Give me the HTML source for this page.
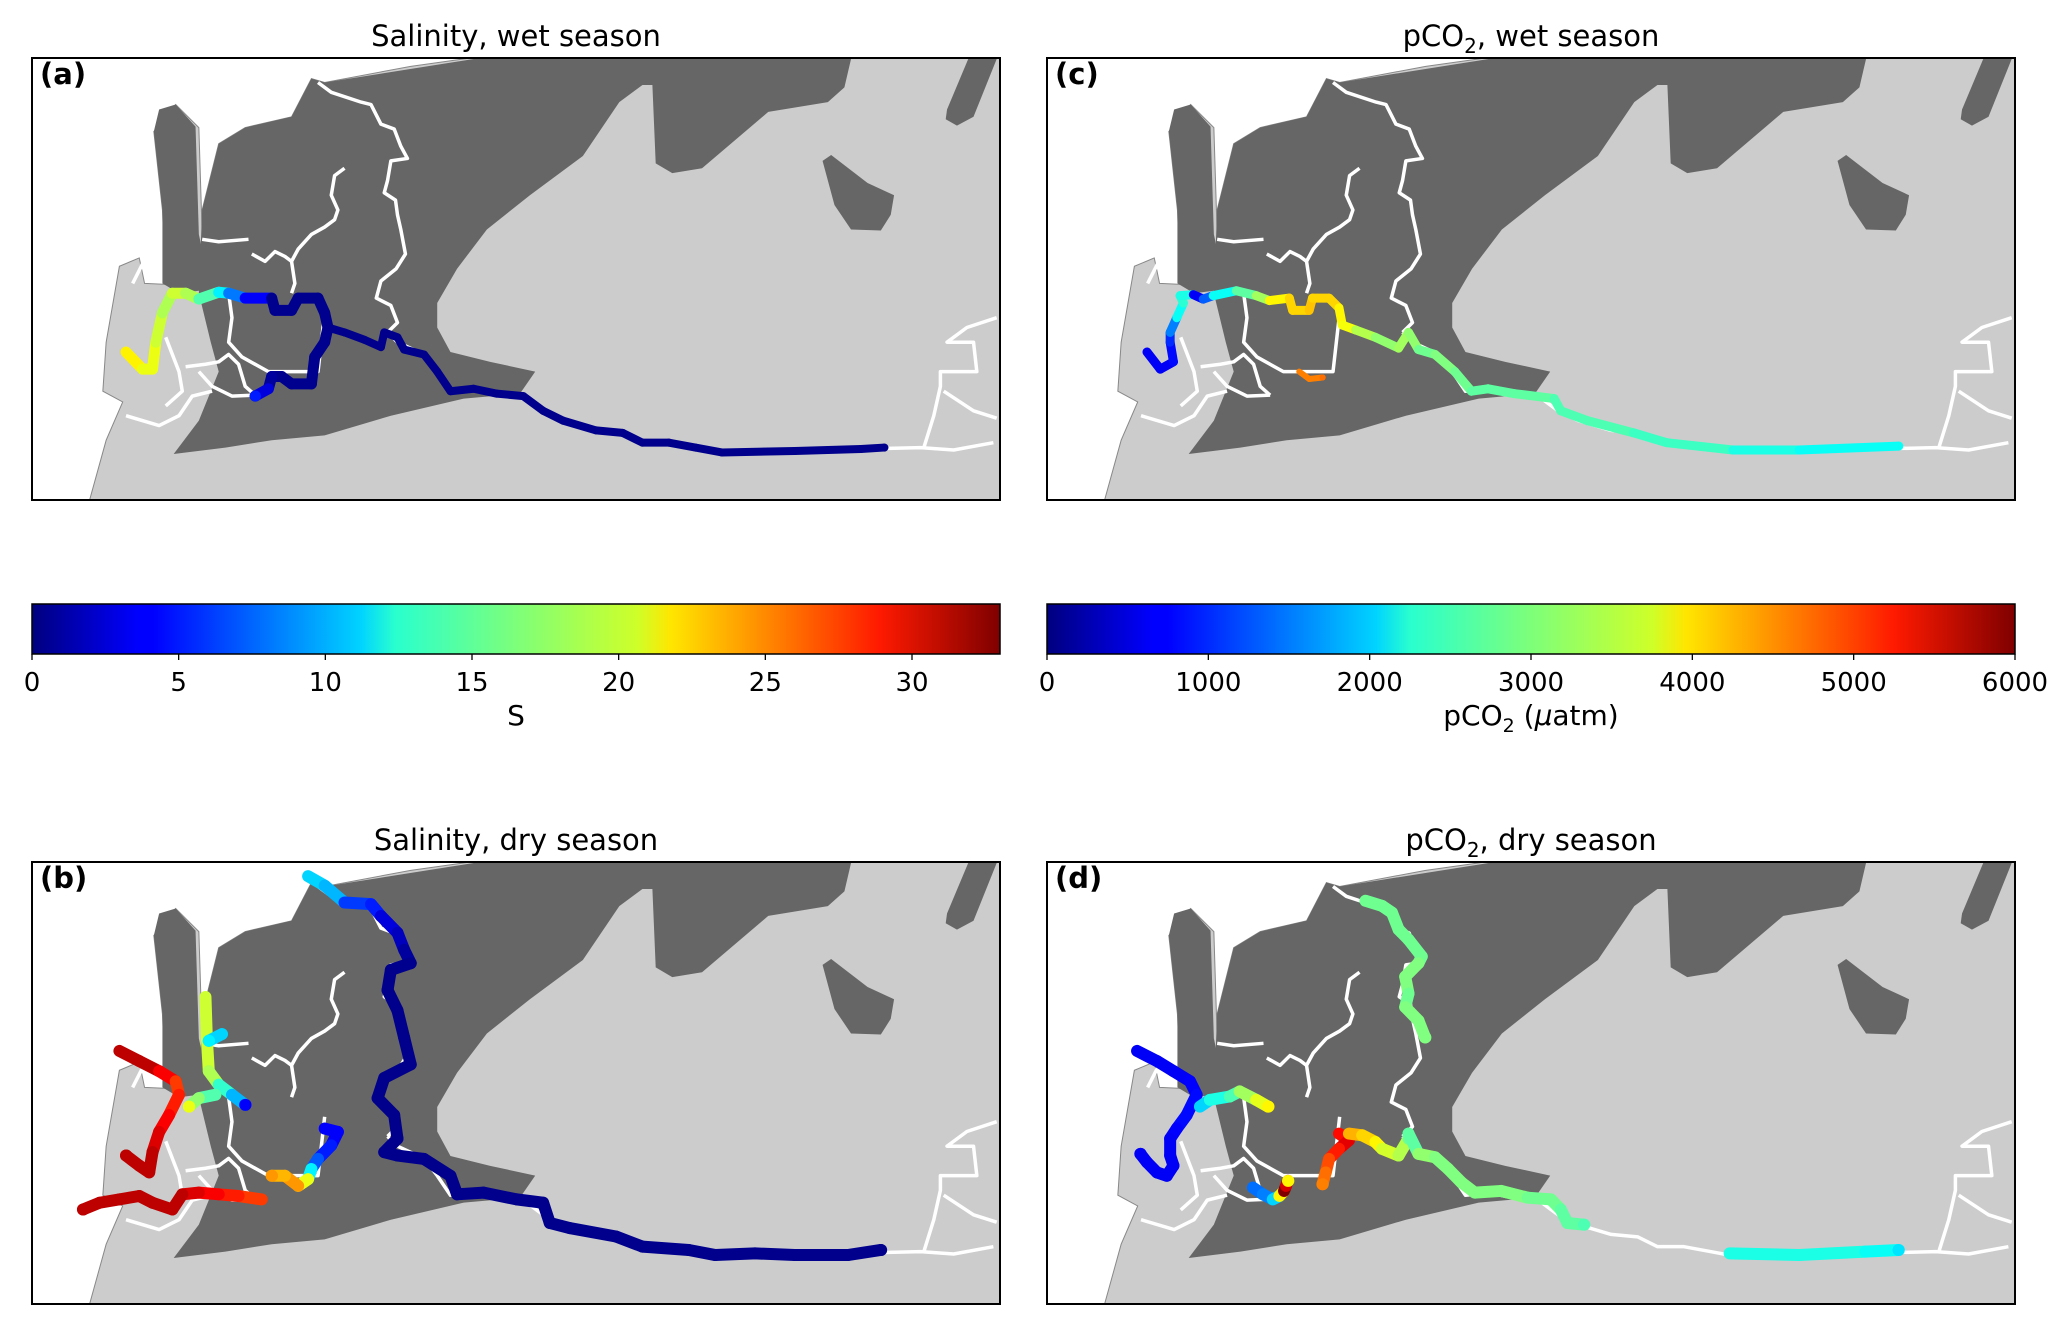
<!DOCTYPE html>
<html><head><meta charset="utf-8"><style>
body{margin:0;background:#fff}
svg text{font-family:"DejaVu Sans","Liberation Sans",sans-serif;fill:#000}
</style></head><body>
<svg id="fig" width="2065" height="1324" viewBox="0 0 2065 1324" xmlns="http://www.w3.org/2000/svg">
<defs>
<linearGradient id="jet" x1="0" x2="1" y1="0" y2="0">
<stop offset="0" stop-color="#00007f"/><stop offset="0.11" stop-color="#0000ff"/><stop offset="0.125" stop-color="#0000ff"/>
<stop offset="0.34" stop-color="#00d4ff"/><stop offset="0.375" stop-color="#29ffce"/><stop offset="0.5" stop-color="#7dff7a"/>
<stop offset="0.625" stop-color="#ceff29"/><stop offset="0.66" stop-color="#ffe600"/><stop offset="0.875" stop-color="#ff1a00"/><stop offset="1" stop-color="#7f0000"/>
</linearGradient>
<g id="basemap">
<rect x="48" y="120" width="1462" height="902" fill="#fff"/>
<path fill="#cccccc" stroke="#888" stroke-width="1" vector-effect="non-scaling-stroke" d="M710,120 L1510,120 L1510,1022 L135,1022 L160,900 L185,822 L155,800 L160,700 L180,545 L210,528 L218,580 L250,582 L245,430 L232,270 L265,215 L300,262 L305,480 L318,585 L305,430 L330,295 L370,262 L440,240 L470,162 L490,170 L620,137 Z"/>
<path fill="#666666" d="M490,170 L715,122 L1285,122 L1275,180 L1250,210 L1160,230 L1060,345 L1015,355 L990,335 L985,175 L970,175 L935,210 L880,320 L800,400 L735,470 L690,550 L660,620 L660,670 L680,720 L740,740 L808,760 L785,805 L700,815 L590,850 L490,890 L410,900 L340,915 L262,928 L300,860 L330,760 L318,700 L300,600 L305,430 L330,295 L370,262 L440,240 L470,162 Z"/>
<path fill="#666666" d="M232,270 L240,225 L265,215 L295,260 L300,480 L318,592 L270,600 L245,580 L245,430 Z"/>
<path fill="#666666" d="M1430,225 L1462,122 L1505,122 L1470,240 L1445,258 L1428,245 Z"/>
<path fill="#666666" d="M1255,318 L1310,375 L1350,400 L1345,440 L1330,472 L1285,470 L1260,420 L1242,330 Z"/>
<g fill="none" stroke="#fff" stroke-width="3.5" vector-effect="non-scaling-stroke" stroke-linejoin="round">
<path vector-effect="non-scaling-stroke" d="M480,170 L500,190 L545,210 L560,215 L575,255 L595,265 L605,300 L615,325 L590,330 L585,370 L580,395 L597,410 L600,440 L605,470 L612,520 L598,550 L575,575 L568,610 L590,625 L600,660 L585,680"/>
<path vector-effect="non-scaling-stroke" d="M520,345 L505,360 L500,400 L510,430 L505,450 L490,465 L470,480 L450,510 L440,535 L445,580 L440,600"/>
<path vector-effect="non-scaling-stroke" d="M380,520 L400,535 L415,515 L430,525 L440,535"/>
<path vector-effect="non-scaling-stroke" d="M305,490 L330,495 L375,490"/>
<path vector-effect="non-scaling-stroke" d="M345,600 L350,650 L345,700 L365,730 L405,760 L480,760 L490,640"/>
<path vector-effect="non-scaling-stroke" d="M280,750 L310,745 L330,740 L345,725 L360,745 L370,790 L385,808"/>
<path vector-effect="non-scaling-stroke" d="M300,760 L320,790 L350,810 L385,808"/>
<path vector-effect="non-scaling-stroke" d="M190,850 L240,870 L270,850 L290,810 L320,800"/>
<path vector-effect="non-scaling-stroke" d="M215,540 L200,580"/>
<path vector-effect="non-scaling-stroke" d="M250,690 L270,760 L275,800 L250,830"/>
<path vector-effect="non-scaling-stroke" d="M585,680 L600,700 L640,725 L660,760 L680,800 L715,795 L750,805 L790,810 L820,840 L850,860 L900,880 L940,885 L970,905 L1010,905 L1050,915 L1090,925 L1200,922 L1300,918 L1390,915 L1440,920 L1500,905"/>
<path vector-effect="non-scaling-stroke" d="M1505,650 L1460,670 L1430,700 L1470,700 L1475,760 L1420,760 L1420,790 L1410,850 L1395,915"/>
<path vector-effect="non-scaling-stroke" d="M1425,800 L1470,840 L1505,855"/>
</g>
</g>
</defs>

<text x="516" y="46" font-size="29" text-anchor="middle">Salinity, wet season</text>
<text x="1531" y="46" font-size="29" text-anchor="middle">pCO<tspan font-size="20" dy="7">2</tspan><tspan dy="-7">, wet season</tspan></text>
<text x="516" y="850" font-size="29" text-anchor="middle">Salinity, dry season</text>
<text x="1531" y="850" font-size="29" text-anchor="middle">pCO<tspan font-size="20" dy="7">2</tspan><tspan dy="-7">, dry season</tspan></text>

<svg id="pa" x="32" y="58" width="968" height="442" viewBox="48 120 1462 902" preserveAspectRatio="none"><use href="#basemap"/><g id="ta"></g></svg>
<svg id="pc" x="1047" y="58" width="968" height="442" viewBox="48 120 1462 902" preserveAspectRatio="none"><use href="#basemap"/><g id="tc" transform="translate(34,0)"></g></svg>
<svg id="pb" x="32" y="862" width="968" height="442" viewBox="48 120 1462 902" preserveAspectRatio="none"><use href="#basemap"/><g id="tb" transform="translate(0,-3.93) scale(1,0.6885)"></g></svg>
<svg id="pd" x="1047" y="862" width="968" height="442" viewBox="48 120 1462 902" preserveAspectRatio="none"><use href="#basemap"/><g id="td" transform="translate(34,-3.93) scale(1,0.6885)"></g></svg>

<rect x="32" y="58" width="968" height="442" fill="none" stroke="#000" stroke-width="2"/>
<rect x="1047" y="58" width="968" height="442" fill="none" stroke="#000" stroke-width="2"/>
<rect x="32" y="862" width="968" height="442" fill="none" stroke="#000" stroke-width="2"/>
<rect x="1047" y="862" width="968" height="442" fill="none" stroke="#000" stroke-width="2"/>
<text x="40" y="84" font-size="29" font-weight="bold">(a)</text>
<text x="1055" y="84" font-size="29" font-weight="bold">(c)</text>
<text x="40" y="888" font-size="29" font-weight="bold">(b)</text>
<text x="1055" y="888" font-size="29" font-weight="bold">(d)</text>

<g id="cbars"></g>
</svg>
<script>
// colorbar data
const salTicks = [0,5,10,15,20,25,30];
const salMax = 33;
const pco2Ticks = [0,1000,2000,3000,4000,5000,6000];
const pco2Max = 6000;

// track data: x, y (map coords), value
const aX=[190,215,230,235,245,260,280,300,330,345,370,410,415,440,450,480,490,495,490,475,470,440,425,410,405,385];
const aY=[720,755,755,700,640,600,600,612,598,600,610,610,635,635,610,610,640,670,700,730,785,785,770,770,795,810];
const aV=[21,20,20,19,18,19,18,15,12,8,4,0.5,0.5,0.5,0.5,0.5,0.5,0.5,0.5,0.5,0.5,0.5,0.5,1,3,5];
const a2X=[495,520,550,575,580,600,610,640,660,680,715,750,790,820,850,900,940,970,1010,1050,1090,1200,1300,1335];
const a2Y=[670,680,695,710,680,690,715,725,760,800,795,805,810,840,860,880,885,905,905,915,925,922,918,915];
const a2V=[0.4,0.4,0.4,0.4,0.4,0.4,0.4,0.4,0.4,0.4,0.4,0.4,0.4,0.4,0.4,0.4,0.4,0.4,0.4,0.4,0.4,0.4,0.4,0.4];

const b1X=[465,490,520,560,575,600,610,620,590,585,600,610,620,580,570,595,600,580,600,640,680,690,730,780,820,830,860,930,970,1040,1080,1140,1200,1280,1330];
const b1Y=[222,250,300,305,340,390,440,480,500,560,620,700,780,820,880,930,1000,1040,1050,1060,1110,1165,1160,1180,1190,1250,1265,1290,1320,1330,1345,1340,1345,1345,1330];
const b1V=[11,10,6,5,3,2,1,0.5,0.4,0.4,0.4,0.4,0.4,0.4,0.4,0.4,0.4,0.4,0.4,0.4,0.4,0.4,0.4,0.4,0.4,0.4,0.4,0.4,0.4,0.4,0.4,0.4,0.4,0.4,0.4];
const b2X=[490,510,500,480,470,465,450,430,410];
const b2Y=[970,980,1020,1060,1090,1120,1140,1110,1110];
const b2V=[4,4,5,7,12,20,24,23,24];
const b3X=[395,360,330,300,275,260,230,210,180,150,125];
const b3Y=[1180,1170,1165,1160,1165,1210,1190,1170,1180,1190,1210];
const b3V=[27,28,29,30,31,31,31,31,31,31,31];
const b4X=[180,210,240,265,270,255,240,230,225,210,190];
const b4Y=[740,770,800,830,870,930,980,1040,1100,1080,1050];
const b4V=[31,31,29,27,28,29,30,31,31,31,31];
const b5X=[310,312,315,330,350,370];
const b5Y=[580,700,800,840,870,900];
const b5V=[19,19,18,14,10,4];
const b6X=[335,315];
const b6Y=[690,710];
const b6V=[11,12];
const b7X=[325,300,285];
const b7Y=[870,880,905];
const b7V=[15,17,20];

const c1X=[165,185,205,200,200,210,220,215,235,250,265,300,330,350,380,385,410,415,440,455,460,480,510,545,560,575,600,630,655,680,720,780,790,830,900,950,1050,1150,1300];
const c1Y=[720,755,740,700,680,650,620,605,603,612,605,595,605,615,610,635,635,610,610,630,665,675,690,712,680,715,725,760,800,795,805,815,840,860,885,905,920,920,912];
const c1V=[700,700,800,1000,1500,2300,2500,2400,700,1300,2300,2800,3200,3800,4000,4000,4100,4000,4000,3800,3700,3300,3100,3200,3100,2900,3000,2900,2800,2800,2800,2700,2700,2700,2600,2600,2400,2300,2300];
const c2X=[395,410,430];
const c2Y=[760,775,772];
const c2V=[4500,4500,4600];

const d1X=[495,520,535,545,560,580,575,555,560,555,575,585];
const d1Y=[295,310,330,380,410,460,480,520,570,610,650,700];
const d1V=[2900,2900,2900,2900,2900,2900,3000,3000,2900,3000,3000,3000];
const d2X=[455,470,455,440,435,430];
const d2Y=[985,1005,1030,1060,1100,1135];
const d2V=[5200,5400,5100,4800,4600,4500];
const d3X=[470,490,510,520,545,560,560,575,600,620,640,660,700,740,775,790,800,825];
const d3Y=[985,990,1010,1030,1050,1000,985,1045,1055,1090,1130,1160,1155,1175,1180,1210,1250,1255];
const d3V=[4200,4000,3800,3500,3300,2900,2800,3100,3000,3000,3000,3000,3000,2900,2900,2800,2800,2700];
const d4X=[1045,1150,1250,1300];
const d4Y=[1340,1345,1335,1330];
const d4V=[2400,2400,2300,2100];
const d5X=[150,180,205,230,240,225,210,200,200,205,195,180,165,155];
const d5Y=[740,770,800,830,870,930,970,1000,1050,1080,1110,1100,1070,1045];
const d5V=[700,700,700,750,800,800,750,700,700,700,700,700,700,700];
const d6X=[245,260,290,305,330,348];
const d6Y=[905,885,875,860,885,905];
const d6V=[2000,2400,2700,3200,3600,3800];
const d7X=[325,340,355,365,372,375,378];
const d7Y=[1145,1165,1180,1170,1155,1140,1125];
const d7V=[1400,1500,2000,3800,6000,5500,3800];

const NS='http://www.w3.org/2000/svg';
function clamp(v){return Math.max(0,Math.min(1,v));}
function jet(t){
  t=clamp(t);
  const r=clamp(1.5-Math.abs(4*t-3)), g=clamp(1.5-Math.abs(4*t-2)), b=clamp(1.5-Math.abs(4*t-1));
  return 'rgb('+Math.round(r*255)+','+Math.round(g*255)+','+Math.round(b*255)+')';
}
function drawTrack(gid, xs, ys, vs, vmax, w, name){
  const g=document.getElementById(gid);
  for(let i=0;i<xs.length;i++){
    const j=Math.min(i+1,xs.length-1);
    const l=document.createElementNS(NS,'line');
    
    
    l.setAttribute('x1',xs[i]);l.setAttribute('y1',ys[i]);
    l.setAttribute('x2',xs[j]+(i===j?0.5:0));l.setAttribute('y2',ys[j]);
    l.setAttribute('stroke',jet(vs[i]/vmax));
    l.setAttribute('stroke-width',w);
    l.setAttribute('stroke-linecap','round');
    l.setAttribute('vector-effect','non-scaling-stroke');
    g.appendChild(l);
  }
}
drawTrack('ta',aX,aY,aV,salMax,11,'salinity-wet-track-west');
drawTrack('ta',a2X,a2Y,a2V,salMax,8,'salinity-wet-track-east');
[[b1X,b1Y,b1V],[b2X,b2Y,b2V],[b3X,b3Y,b3V],[b4X,b4Y,b4V],[b5X,b5Y,b5V],[b6X,b6Y,b6V],[b7X,b7Y,b7V]].forEach(function(t){drawTrack('tb',t[0],t[1],t[2],salMax,12,'salinity-dry-track');});
drawTrack('tc',c1X,c1Y,c1V,pco2Max,9,'pco2-wet-track');
drawTrack('tc',c2X,c2Y,c2V,pco2Max,6,'pco2-wet-track-branch');
[[d1X,d1Y,d1V],[d2X,d2Y,d2V],[d3X,d3Y,d3V],[d4X,d4Y,d4V],[d5X,d5Y,d5V],[d6X,d6Y,d6V],[d7X,d7Y,d7V]].forEach(function(t){drawTrack('td',t[0],t[1],t[2],pco2Max,12,'pco2-dry-track');});

function colorbar(x0,w,ticks,vmax,label,name){
  const g=document.getElementById('cbars');
  const y0=604,h=50;
  const r=document.createElementNS(NS,'rect');
  
  
  r.setAttribute('x',x0);r.setAttribute('y',y0);r.setAttribute('width',w);r.setAttribute('height',h);
  r.setAttribute('fill','url(#jet)');r.setAttribute('stroke','#000');r.setAttribute('stroke-width','1.5');
  g.appendChild(r);
  ticks.forEach(function(t){
    const x=x0+w*t/vmax;
    const l=document.createElementNS(NS,'line');
    
    
    l.setAttribute('x1',x);l.setAttribute('x2',x);l.setAttribute('y1',y0+h);l.setAttribute('y2',y0+h+6);
    l.setAttribute('stroke','#000');l.setAttribute('stroke-width','1.3');
    g.appendChild(l);
    const tx=document.createElementNS(NS,'text');
    
    
    tx.setAttribute('x',x);tx.setAttribute('y',y0+h+37);tx.setAttribute('font-size','26');tx.setAttribute('text-anchor','middle');
    tx.textContent=t;
    g.appendChild(tx);
  });
  const lb=document.createElementNS(NS,'text');
  
  
  lb.setAttribute('x',x0+w/2);lb.setAttribute('y',725);lb.setAttribute('font-size','28');lb.setAttribute('text-anchor','middle');
  lb.innerHTML=label;
  g.appendChild(lb);
}
colorbar(32,968,salTicks,salMax,'S','salinity-colorbar');
colorbar(1047,968,pco2Ticks,pco2Max,'pCO<tspan font-size="19" dy="7">2</tspan><tspan dy="-7"> (</tspan><tspan font-style="italic">μ</tspan>atm)','pco2-colorbar');
</script>
</body></html>
